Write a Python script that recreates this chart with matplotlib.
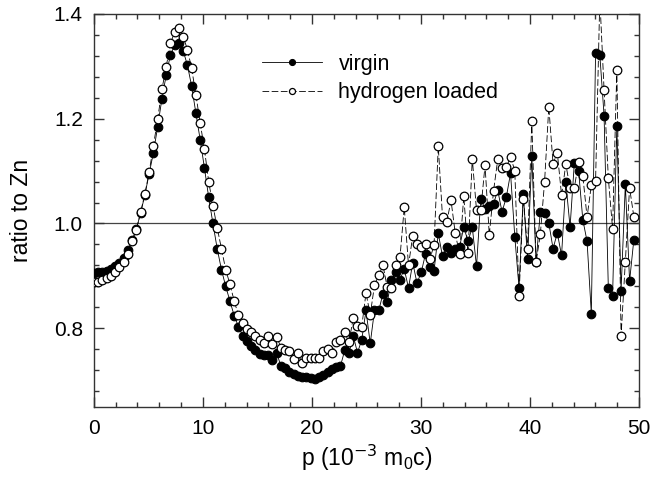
import numpy as np
import matplotlib
matplotlib.use("Agg")
from matplotlib import pyplot as plt
from matplotlib.ticker import MultipleLocator

plt.rcParams['font.family'] = ['Liberation Sans', 'DejaVu Sans']
plt.rcParams['mathtext.default'] = 'regular'

# momentum channels (10^-3 m0c)
p = [0.00, 0.39, 0.78, 1.17, 1.56, 1.95, 2.34, 2.73, 3.12, 3.51,
     3.90, 4.29, 4.68, 5.07, 5.46, 5.85, 6.24, 6.63, 7.02, 7.41,
     7.80, 8.19, 8.58, 8.97, 9.36, 9.75, 10.14, 10.53, 10.92, 11.31,
     11.70, 12.09, 12.48, 12.87, 13.26, 13.65, 14.04, 14.43, 14.82, 15.21,
     15.60, 15.99, 16.38, 16.77, 17.16, 17.55, 17.94, 18.33, 18.72, 19.11,
     19.50, 19.89, 20.28, 20.67, 21.06, 21.45, 21.84, 22.23, 22.62, 23.01,
     23.40, 23.79, 24.18, 24.57, 24.96, 25.35, 25.74, 26.13, 26.52, 26.91,
     27.30, 27.69, 28.08, 28.47, 28.86, 29.25, 29.64, 30.03, 30.42, 30.81,
     31.20, 31.59, 31.98, 32.37, 32.76, 33.15, 33.54, 33.93, 34.32, 34.71,
     35.10, 35.49, 35.88, 36.27, 36.66, 37.05, 37.44, 37.83, 38.22, 38.61,
     39.00, 39.39, 39.78, 40.17, 40.56, 40.95, 41.34, 41.73, 42.12, 42.51,
     42.90, 43.29, 43.68, 44.07, 44.46, 44.85, 45.24, 45.63, 46.02, 46.41,
     46.80, 47.19, 47.58, 47.97, 48.36, 48.75, 49.14, 49.53]

virgin = [0.905, 0.907, 0.908, 0.910, 0.913, 0.918, 0.925, 0.935, 0.950, 0.968,
          0.990, 1.020, 1.055, 1.095, 1.135, 1.185, 1.238, 1.283, 1.322, 1.340,
          1.345, 1.330, 1.302, 1.262, 1.210, 1.160, 1.106, 1.050, 1.000, 0.952,
          0.912, 0.880, 0.852, 0.824, 0.803, 0.786, 0.775, 0.767, 0.758, 0.751,
          0.749, 0.749, 0.739, 0.752, 0.728, 0.725, 0.717, 0.712, 0.709, 0.707,
          0.706, 0.705, 0.703, 0.707, 0.711, 0.717, 0.722, 0.726, 0.728, 0.758,
          0.752, 0.786, 0.753, 0.778, 0.834, 0.771, 0.834, 0.834, 0.866, 0.850,
          0.892, 0.907, 0.893, 0.913, 0.877, 0.925, 0.886, 0.907, 0.942, 0.916,
          0.909, 0.981, 0.937, 0.956, 0.943, 0.952, 0.955, 0.993, 0.966, 0.993,
          0.918, 1.047, 1.028, 1.034, 1.038, 1.063, 1.022, 1.050, 1.096, 0.975,
          0.877, 1.057, 0.932, 1.128, 0.926, 1.022, 1.020, 1.001, 0.952, 0.982,
          0.939, 1.079, 0.993, 1.115, 1.101, 1.007, 0.966, 0.828, 1.325, 1.322,
          1.206, 0.877, 0.861, 1.186, 0.872, 1.075, 0.890, 0.969]

hydrogen = [0.889, 0.889, 0.892, 0.895, 0.900, 0.907, 0.916, 0.926, 0.942, 0.967,
            0.988, 1.022, 1.057, 1.098, 1.148, 1.199, 1.256, 1.299, 1.344, 1.365,
            1.373, 1.357, 1.332, 1.296, 1.245, 1.192, 1.142, 1.080, 1.034, 0.992,
            0.952, 0.912, 0.884, 0.852, 0.825, 0.810, 0.798, 0.792, 0.786, 0.778,
            0.772, 0.786, 0.770, 0.784, 0.763, 0.758, 0.757, 0.741, 0.752, 0.733,
            0.743, 0.743, 0.743, 0.743, 0.757, 0.760, 0.752, 0.773, 0.777, 0.792,
            0.773, 0.820, 0.805, 0.803, 0.867, 0.826, 0.882, 0.901, 0.920, 0.878,
            0.876, 0.920, 0.936, 1.031, 0.920, 0.977, 0.961, 0.955, 0.961, 0.932,
            0.958, 1.147, 1.012, 1.003, 1.044, 0.981, 0.942, 1.052, 0.943, 1.124,
            1.025, 1.026, 1.111, 0.978, 1.062, 1.123, 1.105, 1.107, 1.127, 1.101,
            0.862, 1.047, 0.952, 1.196, 0.926, 0.979, 1.079, 1.223, 1.114, 1.135,
            1.054, 1.113, 1.068, 1.068, 1.117, 1.091, 1.012, 1.073, 1.081, 1.430,
            1.255, 1.087, 0.990, 1.293, 0.786, 0.926, 1.068, 1.013]

fig = plt.figure(figsize=(6.52, 4.82), dpi=100)
ax = fig.add_axes([0.144, 0.156, 0.836, 0.815])

axcol = '#333333'
ax.axhline(1.0, color='#444444', lw=0.9, zorder=1)

ax.plot(p, virgin, '-', color='black', lw=0.6, marker='o', ms=6.2,
        mfc='black', mec='black', mew=0.8, label='virgin', zorder=3)
ax.plot(p, hydrogen, color='black', lw=0.6, dashes=(8, 3), marker='o', ms=6.2,
        mfc='white', mec='black', mew=0.9, label='hydrogen loaded', zorder=4)

ax.set_xlim(0, 50)
ax.set_ylim(0.65, 1.4)
ax.xaxis.set_major_locator(MultipleLocator(10))
ax.xaxis.set_minor_locator(MultipleLocator(2))
ax.yaxis.set_major_locator(MultipleLocator(0.2))
ax.yaxis.set_minor_locator(MultipleLocator(0.04))
ax.yaxis.set_major_formatter(plt.FormatStrFormatter('%.1f'))

ax.tick_params(which='both', direction='in', top=True, right=True,
               color=axcol, width=1.0, labelsize=15)
ax.tick_params(axis='x', which='both', pad=9)
ax.tick_params(axis='y', which='both', pad=8)
ax.tick_params(which='major', length=7.5)
ax.tick_params(which='minor', length=3.6)
for s in ax.spines.values():
    s.set_color(axcol)
    s.set_linewidth(1.0)

ax.set_xlabel(r'p (10$^{\mathsf{-3}}$ m$_0$c)', fontsize=16.5, labelpad=3)
ax.set_ylabel('ratio to Zn', fontsize=16.5, labelpad=15)

ax.legend(loc='upper left', bbox_to_anchor=(0.273, 0.948), frameon=False,
          fontsize=15.5, handlelength=2.8, handletextpad=0.75, labelspacing=0.35,
          markerscale=0.7)

fig.savefig('out.png', dpi=100)
